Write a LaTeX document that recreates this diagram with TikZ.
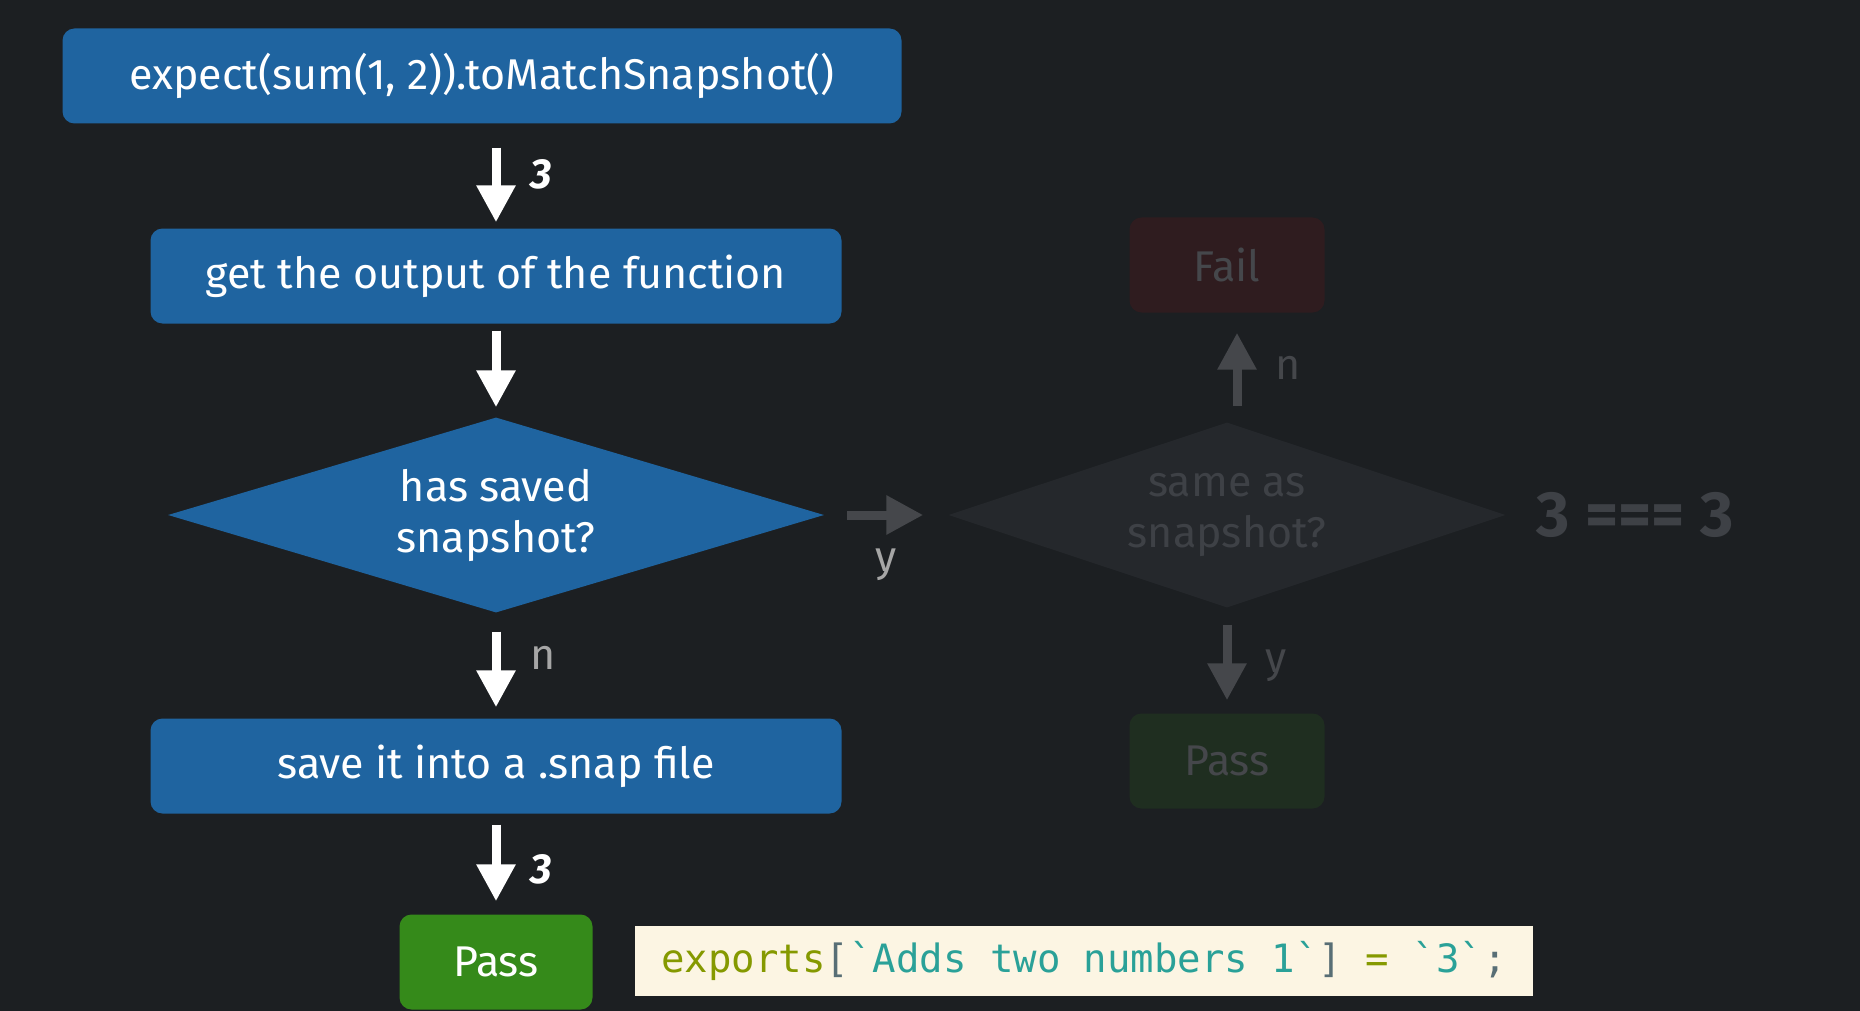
\documentclass[tikz,border=0pt]{standalone}
\usepackage{fontspec}
\setmainfont{Fira Sans}
\setmonofont{DejaVu Sans Mono}
\usepackage{tikz}
\usetikzlibrary{arrows.meta,shapes.geometric,positioning}

\definecolor{bg}{HTML}{1C1F22}
\definecolor{boxblue}{HTML}{1F64A0}
\definecolor{passgreen}{HTML}{358A1A}
\definecolor{dimgrey}{HTML}{45474B}
\definecolor{dimtext}{HTML}{3E4146}
\definecolor{dimdiamond}{HTML}{25282C}
\definecolor{dimred}{HTML}{2F1C1F}
\definecolor{dimgreen}{HTML}{1F2E20}
\definecolor{lblgrey}{HTML}{A6A6A6}
\definecolor{codebg}{HTML}{FCF5E3}
\definecolor{solgreen}{HTML}{859900}
\definecolor{solcyan}{HTML}{2AA198}
\definecolor{solbase}{HTML}{586E75}

\begin{document}
\begin{tikzpicture}[x=1pt,y=-1pt,on grid,
  every node/.style={font=\fontsize{43}{51}\selectfont},
  box/.style={fill=boxblue,text=white,rounded corners=12pt,minimum width=691pt,minimum height=95pt,inner sep=0pt},
  dbox/.style={rounded corners=12pt,minimum width=195pt,minimum height=95pt,inner sep=0pt,text=dimgrey},
  decision/.style={diamond,aspect=3.4,inner sep=0pt,align=center},
  bigarrow/.style={-{Triangle[width=37pt,length=37pt]},line width=9pt,white},
  dimarrow/.style={bigarrow,dimgrey},
  lbl/.style={inner sep=0pt,anchor=west,xshift=30pt},
  num/.style={lbl,text=white,font=\fontsize{42}{48}\selectfont\bfseries\itshape}]
\fill[bg] (0,0) rectangle (1860,1011);
\useasboundingbox (0,0) rectangle (1860,1011);

\node[box,minimum width=839pt] (expect) at (482,76) {expect(sum(1, 2)).toMatchSnapshot()};
\node[box] (output) at (496,276) {get the output of the function};
\node[decision,fill=boxblue,text=white,minimum width=656pt,minimum height=195pt] (saved) [below=239pt of output] {has saved\\snapshot?};
\node[box] (save) [below=251pt of saved] {save it into a .snap file};
\node[box,fill=passgreen,minimum width=193pt] (pass) [below=196pt of save] {Pass};

\node[decision,fill=dimdiamond,text=dimtext,minimum width=557pt,minimum height=185pt] (same) [right=731pt of saved] {same as\\snapshot?};
\node[dbox,fill=dimred] (fail) [above=250pt of same] {Fail};
\node[dbox,fill=dimgreen] (dpass) [below=246pt of same] {Pass};
\node[text=dimtext,font=\fontsize{64}{66}\selectfont\bfseries] (check) [right=408pt of same] {3 === 3};

\node[fill=codebg,minimum width=898pt,minimum height=70pt,inner sep=0pt,font=\fontsize{39}{45}\selectfont\ttfamily] (snap) at (1084,961)
  {\textcolor{solgreen}{exports}\textcolor{solbase}{[}\textcolor{solcyan}{`Adds two numbers 1`}\textcolor{solbase}{]} \textcolor{solgreen}{=} \textcolor{solcyan}{`3`}\textcolor{solbase}{;}};

\path[bigarrow]
  (expect.south -| output.north) edge[shorten <=24pt,shorten >=6pt] node[num,pos=.48] {3} (output.north)
  (output.south) edge[shorten <=7pt,shorten >=10pt] (saved.north)
  (saved.south) edge[shorten <=19pt,shorten >=11pt] node[lbl,text=lblgrey,pos=.43] {n} (save.north)
  (save.south) edge[shorten <=11pt,shorten >=13pt] node[num,pos=.55] {3} (pass.north)
  ;
\path[dimarrow]
  (saved.east) edge[shorten <=23pt,shorten >=25pt] node[inner sep=0pt,text=lblgrey,yshift=-50pt] {y} (same.west)
  ([xshift=10pt]same.north) edge[shorten <=16pt,shorten >=20pt] node[lbl,text=dimgrey,xshift=4pt,pos=.5] {n} ([xshift=10pt]fail.south)
  (same.south) edge[shorten <=17pt,shorten >=13pt] node[lbl,text=dimgrey,xshift=4pt,pos=.55] {y} (dpass.north)
  ;
\end{tikzpicture}
\end{document}
